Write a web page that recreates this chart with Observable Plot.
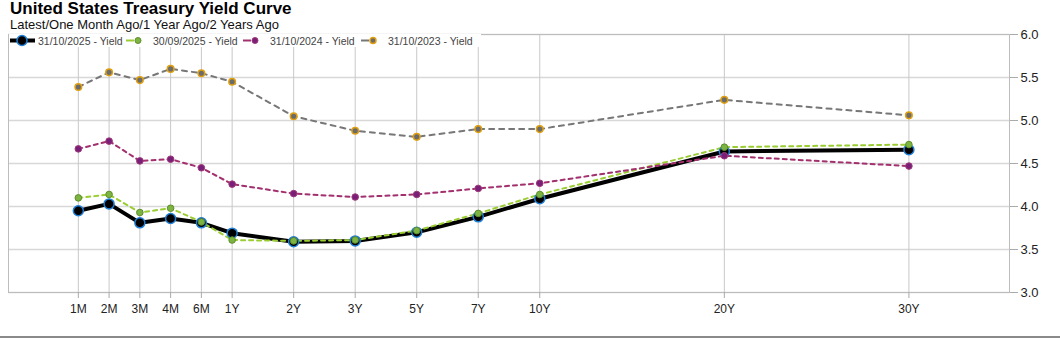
<!DOCTYPE html>
<html><head><meta charset="utf-8">
<script src="https://cdn.jsdelivr.net/npm/d3@7"></script>
<script src="https://cdn.jsdelivr.net/npm/@observablehq/plot@0.6"></script>
<style>
body{margin:0;background:#fff;font-family:"Liberation Sans",Arial,sans-serif;}
#wrap{position:relative;width:1060px;height:362px;overflow:hidden;background:#fff;}
#title{position:absolute;left:10px;top:0px;font-weight:bold;font-size:17px;line-height:17px;color:#000;white-space:nowrap;}
#sub{position:absolute;left:10px;top:17px;font-size:13px;line-height:15px;color:#111;white-space:nowrap;}
#chart{position:absolute;left:0;top:20px;}
#legend{position:absolute;left:9px;top:34px;height:13px;width:472px;background:#fff;font-size:10.5px;color:#444;}
.item{position:absolute;top:0;display:flex;align-items:center;height:13px;white-space:nowrap;}
#rule{position:absolute;left:0;top:336px;width:1060px;height:2px;background:#8a8a8a;}
</style>
</head><body>
<div id="wrap">
  <div id="chart"></div>
  <div id="title">United States Treasury Yield Curve</div>
  <div id="sub">Latest/One Month Ago/1 Year Ago/2 Years Ago</div>
  <div id="legend"></div>
  <div id="rule"></div>
</div>
<script>
const tenors = ["1M","2M","3M","4M","6M","1Y","2Y","3Y","5Y","7Y","10Y","20Y","30Y"];
const yields_20251031 = [3.95,4.03,3.81,3.86,3.81,3.69,3.59,3.60,3.70,3.88,4.09,4.64,4.66];
const yields_20250930 = [4.10,4.14,3.93,3.98,3.82,3.61,3.60,3.61,3.72,3.92,4.14,4.69,4.72];
const yields_20241031 = [4.67,4.76,4.53,4.55,4.45,4.26,4.15,4.11,4.14,4.21,4.27,4.59,4.47];
const yields_20231031 = [5.39,5.56,5.47,5.60,5.55,5.45,5.05,4.88,4.81,4.90,4.90,5.24,5.06];
const seriesNames = ["31/10/2025 - Yield","30/09/2025 - Yield","31/10/2024 - Yield","31/10/2023 - Yield"];
const yTicks = [3.0,3.5,4.0,4.5,5.0,5.5,6.0];

const styles = [
  {line:"#000000", width:4, dash:null, r:5, fill:"#000000", stroke:"#1f7fd6", sw:1.5},
  {line:"#9acd32", width:2, dash:"4,4", r:3.3, fill:"#7cb342", stroke:"#5e8f2a", sw:1},
  {line:"#a3306e", width:2, dash:"4,4", r:3.3, fill:"#7a1f78", stroke:"#a03a7a", sw:1},
  {line:"#777777", width:2, dash:"5,5", r:3.3, fill:"#6b6b6b", stroke:"#e0a010", sw:1.5}
];
const allValues = [yields_20251031, yields_20250930, yields_20241031, yields_20231031];
const rows = [];
allValues.forEach((vals, si) => vals.forEach((v, i) => rows.push({series: seriesNames[si], tenor: tenors[i], y: v})));

const spacersAfter = {"1Y":1,"2Y":1,"3Y":1,"5Y":1,"7Y":1,"10Y":5,"20Y":5,"30Y":1};
const xDomain = [];
let sc = 0;
tenors.forEach(t => { xDomain.push(t); for (let k = 0; k < (spacersAfter[t]||0); k++) xDomain.push("_s" + (sc++)); });

const marks = [
  Plot.gridY(yTicks, {stroke:"#d8d8d8", strokeOpacity:1, strokeWidth:1.5}),
  Plot.gridX(tenors, {stroke:"#c8c8c8", strokeOpacity:1}),
  Plot.frame({stroke:"#bdbdbd"}),
  Plot.axisX(tenors, {tickSize:6, tickPadding:6, fontSize:12, stroke:"#aaa", fill:"#222"}),
  Plot.axisY(yTicks, {anchor:"right", tickSize:8, tickPadding:3, fontSize:13, tickFormat: d3.format(".1f"), stroke:"#aaa", fill:"#222"})
];
seriesNames.forEach((name, si) => {
  const s = styles[si];
  const d = rows.filter(r => r.series === name);
  marks.push(Plot.line(d, {x:"tenor", y:"y", stroke:s.line, strokeWidth:s.width, strokeDasharray:s.dash || undefined}));
});
seriesNames.forEach((name, si) => {
  const s = styles[si];
  const d = rows.filter(r => r.series === name);
  marks.push(Plot.dot(d, {x:"tenor", y:"y", r:s.r, fill:s.fill, stroke:s.stroke, strokeWidth:s.sw}));
});

const chart = Plot.plot({
  width:1060, height:300,
  marginTop:14, marginBottom:28, marginLeft:8, marginRight:51,
  style:{fontFamily:"Liberation Sans, Arial, sans-serif", fontSize:"12px", color:"#222", background:"transparent"},
  x:{type:"point", domain:xDomain, padding:2.27, round:false, label:null, axis:null},
  y:{domain:[3,6], label:null, axis:null},
  marks
});
document.getElementById("chart").appendChild(chart);

const legendLefts = [1, 117, 234, 352];
const legend = document.getElementById("legend");
seriesNames.forEach((name, si) => {
  const s = styles[si];
  const item = document.createElement("div");
  item.className = "item";
  item.style.left = legendLefts[si] + "px";
  const w = si === 0 ? 25 : 16;
  const ns = "http://www.w3.org/2000/svg";
  const svg = document.createElementNS(ns, "svg");
  svg.setAttribute("width", w); svg.setAttribute("height", 13);
  const ln = document.createElementNS(ns, "line");
  ln.setAttribute("x1", 0); ln.setAttribute("x2", si === 0 ? w : 8);
  ln.setAttribute("y1", 6.5); ln.setAttribute("y2", 6.5);
  ln.setAttribute("stroke", s.line); ln.setAttribute("stroke-width", s.width);
  svg.appendChild(ln);
  const c = document.createElementNS(ns, "circle");
  c.setAttribute("cx", 12); c.setAttribute("cy", 6.5); c.setAttribute("r", si === 0 ? 5 : 3);
  c.setAttribute("fill", s.fill); c.setAttribute("stroke", s.stroke); c.setAttribute("stroke-width", s.sw);
  svg.appendChild(c);
  item.appendChild(svg);
  const span = document.createElement("span");
  span.style.marginLeft = si === 0 ? "3px" : "11px";
  span.textContent = name;
  item.appendChild(span);
  legend.appendChild(item);
});
</script>
</body></html>
